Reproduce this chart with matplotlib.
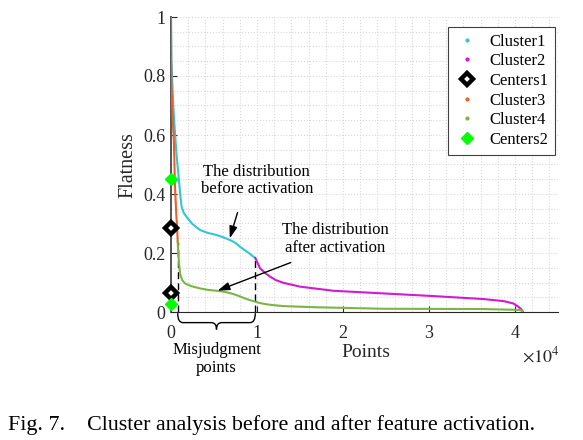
import numpy as np
import matplotlib
matplotlib.use('Agg')
import matplotlib.pyplot as plt
from matplotlib.path import Path
from matplotlib.patches import PathPatch
from matplotlib.ticker import MultipleLocator

plt.rcParams['font.family'] = ['Liberation Serif', 'DejaVu Serif']
plt.rcParams['mathtext.fontset'] = 'stix'

# 曲线数据
cluster1_x = [0, 40, 150, 300, 465, 650, 850, 1050, 1240, 1500, 1820, 2500, 3370, 4300,
              5310, 6100, 6860, 7500, 8020, 8900, 9800]
cluster1_y = [1.0, 0.86, 0.776, 0.68, 0.607, 0.53, 0.47, 0.405, 0.356, 0.335, 0.322, 0.298,
              0.278, 0.268, 0.261, 0.253, 0.244, 0.234, 0.221, 0.203, 0.183]

cluster2_x = [9800, 10350, 11000, 11510, 12200, 13060, 15000, 18870, 24690, 30500, 36300,
              38660, 39800, 40380, 40700, 40900]
cluster2_y = [0.183, 0.148, 0.131, 0.12, 0.108, 0.099, 0.086, 0.072, 0.063, 0.054, 0.044,
              0.037, 0.029, 0.018, 0.01, 0.002]

cluster3_x = [0, 20, 60, 190, 330, 465, 600, 740, 780]
cluster3_y = [1.0, 0.85, 0.764, 0.66, 0.583, 0.425, 0.34, 0.267, 0.238]

cluster4_x = [780, 850, 950, 1050, 1300, 1630, 2300, 3370, 4300, 5310, 6300, 7250, 8000,
              8600, 9200, 9770, 10400, 11130, 12000, 13060, 16940, 24690, 36300, 40580, 40900]
cluster4_y = [0.238, 0.2, 0.16, 0.131, 0.108, 0.097, 0.088, 0.080, 0.075, 0.072, 0.068,
              0.061, 0.053, 0.046, 0.04, 0.035, 0.03, 0.026, 0.023, 0.020, 0.016, 0.011,
              0.010, 0.007, 0.002]

centers1_x = [0, 0]
centers1_y = [0.286, 0.065]
centers2_x = [0, 0]
centers2_y = [0.451, 0.027]

# 误判区间
misjudge_lo = 780
misjudge_hi = 9800

xticks = [0, 10000, 20000, 30000, 40000]
xtick_labels = ['0', '1', '2', '3', '4']
yticks = [0, 0.2, 0.4, 0.6, 0.8, 1.0]
ytick_labels = ['0', '0.2', '0.4', '0.6', '0.8', '1']

c_cyan = '#33c6d2'
c_mag = '#d21ad2'
c_orange = '#ea5f2c'
c_green = '#7db446'

fig = plt.figure(figsize=(5.83, 4.40), dpi=100)
ax = fig.add_axes([171 / 583, 1 - 312 / 440, (558 - 171) / 583, 295 / 440])

ax.plot(cluster1_x, cluster1_y, color=c_cyan, lw=1.5, zorder=3)
ax.plot(cluster2_x, cluster2_y, color=c_mag, lw=1.5, zorder=3)
ax.plot(cluster3_x, cluster3_y, color=c_orange, lw=1.5, zorder=3)
ax.plot(cluster4_x, cluster4_y, color=c_green, lw=1.5, zorder=3)

# 虚线
ax.plot([misjudge_lo, misjudge_lo], [0, cluster3_y[-1]], 'k--', lw=1, dashes=(5, 3))
ax.plot([misjudge_hi, misjudge_hi], [0, cluster1_y[-1]], 'k--', lw=1, dashes=(5, 3))

ax.plot(centers1_x, centers1_y, ls='none', marker='D', ms=6.5, mfc='white', mec='k', mew=3.2,
        clip_on=False, zorder=5)
ax.plot(centers2_x, centers2_y, ls='none', marker='D', ms=6, mfc='#00ff00', mec='#00ff00',
        clip_on=False, zorder=5)

ax.set_xlim(0, 45000)
ax.set_ylim(0, 1)
ax.set_xticks(xticks)
ax.set_xticklabels(xtick_labels)
ax.set_yticks(yticks)
ax.set_yticklabels(ytick_labels)
ax.xaxis.set_minor_locator(MultipleLocator(2000))
ax.yaxis.set_minor_locator(MultipleLocator(0.05))
ax.tick_params(which='major', direction='in', length=4, width=0.8, labelsize=13,
               colors='#262626')
ax.tick_params(axis='x', pad=9)
ax.tick_params(axis='y', pad=4)
ax.tick_params(which='minor', length=0)
ax.grid(which='both', color='#d8d8d8', ls=':', lw=0.8)
ax.set_axisbelow(True)
for s in ['top', 'right']:
    ax.spines[s].set_visible(False)
ax.spines['bottom'].set_color('#262626')
ax.spines['left'].set_color('#555555')
ax.spines['left'].set_linewidth(1.4)

ax.set_xlabel('Points', fontsize=14, color='#262626')
ax.xaxis.set_label_coords((366 - 171) / 387, (312 - 344) / 295)
ax.set_ylabel('Flatness', fontsize=14.5, color='#262626')
ax.yaxis.set_label_coords((137 - 171) / 387, (312 - 165) / 295)
ax.text((541 - 171) / 387, (312 - 356) / 295, r'$\times10^4$', transform=ax.transAxes,
        fontsize=13, ha='center', va='center', color='#262626')

# 图例
h1, = ax.plot([], [], ls='none', marker='.', ms=4, color=c_cyan)
h2, = ax.plot([], [], ls='none', marker='.', ms=4, color=c_mag)
h3, = ax.plot([], [], ls='none', marker='D', ms=6.5, mfc='white', mec='k', mew=3.2)
h4, = ax.plot([], [], ls='none', marker='.', ms=4, color=c_orange)
h5, = ax.plot([], [], ls='none', marker='.', ms=4, color=c_green)
h6, = ax.plot([], [], ls='none', marker='D', ms=6, color='#00ff00')
leg = ax.legend([h1, h2, h3, h4, h5, h6],
                ['Cluster1', 'Cluster2', 'Centers1', 'Cluster3', 'Cluster4', 'Centers2'],
                loc='upper right', bbox_to_anchor=((555 - 171) / 387, (312 - 27) / 295),
                borderaxespad=0, fontsize=12, labelspacing=0.22, handlelength=1.5,
                handletextpad=0.6, borderpad=0.4, fancybox=False, framealpha=1,
                edgecolor='#404040')
leg.get_frame().set_linewidth(0.8)

# 标注
ax.annotate('', xy=(6740, 0.241), xytext=(7830, 0.346),
            arrowprops=dict(arrowstyle='-|>,head_length=0.6,head_width=0.2', color='k',
                            lw=1, mutation_scale=12))
ax.text(9965, 0.446, 'The distribution\nbefore activation', fontsize=12, ha='center',
        va='center', linespacing=1.15)
ax.annotate('', xy=(5120, 0.069), xytext=(14220, 0.171),
            arrowprops=dict(arrowstyle='-|>,head_length=0.6,head_width=0.2', color='k',
                            lw=1, mutation_scale=12))
ax.text(19070, 0.248, 'The distribution\nafter activation', fontsize=12, ha='center',
        va='center', linespacing=1.15)

# 花括号
lo, hi = misjudge_lo, misjudge_hi
mid = (lo + hi) / 2
y0, y1, y2 = -0.004, -0.036, -0.059
r = 600
verts = [(lo, y0), (lo, y1), (lo + r, y1),
         (mid - r, y1), (mid, y1), (mid, y2),
         (mid, y1), (mid + r, y1),
         (hi - r, y1), (hi, y1), (hi, y0)]
codes = [Path.MOVETO, Path.CURVE3, Path.CURVE3,
         Path.LINETO, Path.CURVE3, Path.CURVE3,
         Path.CURVE3, Path.CURVE3,
         Path.LINETO, Path.CURVE3, Path.CURVE3]
ax.add_patch(PathPatch(Path(verts, codes), fc='none', ec='k', lw=1, clip_on=False))
ax.text(mid, -0.159, 'Misjudgment\npoints', fontsize=12, ha='center', va='center',
        linespacing=1.15)

fig.text(8 / 583, 1 - 425 / 440, 'Fig. 7.    Cluster analysis before and after feature activation.',
         fontsize=15.8, ha='left', va='center')

fig.savefig('out.png', dpi=100)
